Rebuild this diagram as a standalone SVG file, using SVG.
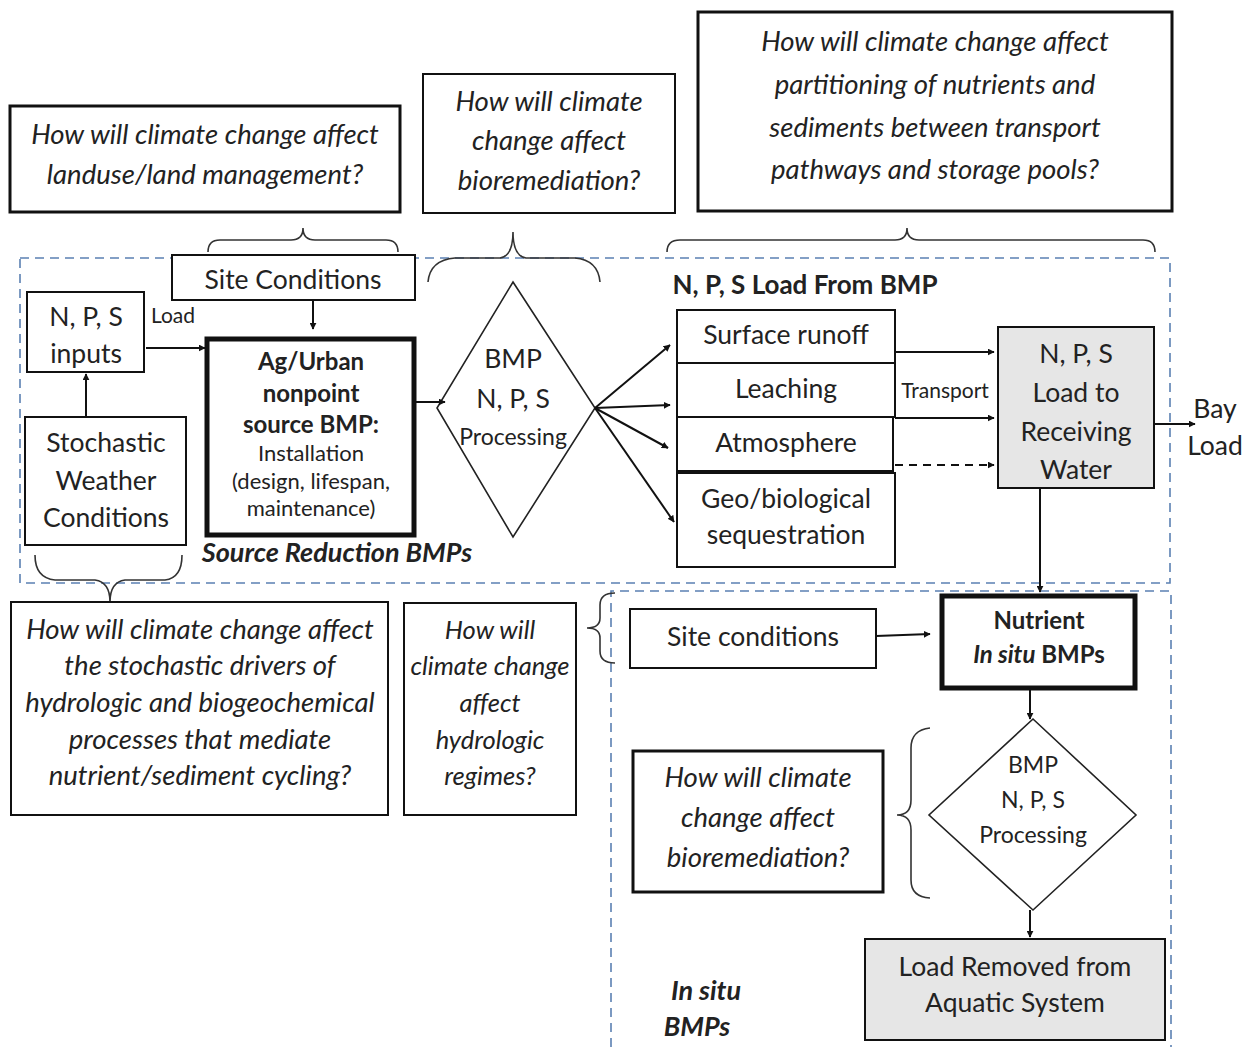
<svg xmlns="http://www.w3.org/2000/svg" width="1253" height="1047" viewBox="0 0 1253 1047">
  <style>
    text { font-family: Lato, "Open Sans", "Liberation Sans", sans-serif; fill: #222; text-anchor: middle; }
    .q { font-style: italic; font-size: 27.5px; }
    .qs { font-style: italic; font-size: 25.5px; }
    .n { font-size: 26.5px; }
    .s { font-size: 22px; }
    .b { font-weight: bold; }
    .box { fill: #fff; stroke: #111; stroke-width: 2; }
    .qbox { fill: #fff; stroke: #111; stroke-width: 3; }
    .thick { fill: #fff; stroke: #111; stroke-width: 5; }
    .grey { fill: #e6e6e6; stroke: #111; stroke-width: 2; }
    .brace { fill: none; stroke: #333; stroke-width: 1.6; }
    .zone { fill: none; stroke: #5b80b2; stroke-width: 1.6; stroke-dasharray: 9 6; }
    .edge { fill: none; stroke: #111; stroke-width: 2; marker-end: url(#arrow); }
    .dash { stroke-dasharray: 8 6; }
  </style>
  <defs>
    <marker id="arrow" viewBox="0 0 10 10" refX="9" refY="5" markerWidth="7" markerHeight="7" markerUnits="userSpaceOnUse" orient="auto">
      <path d="M0,0 L10,5 L0,10 z" fill="#111"/>
    </marker>
  </defs>
  <rect width="1253" height="1047" fill="#fff"/>

  <!-- dashed system boundaries -->
  <g id="zones">
    <rect class="zone" x="20" y="258" width="1150" height="325"/>
    <path class="zone" d="M611,1047 L611,591 L1171,591 L1171,1047"/>
  </g>

  <!-- braces linking questions to parts of the system -->
  <g id="braces">
    <path class="brace" d="M208,252 Q208,240 220,240 L291,240 Q303,240 303,228 Q303,240 315,240 L386,240 Q398,240 398,252"/>
    <path class="brace" d="M428,282 Q430,260 455,258 L500,258 Q513,256 513,232 Q513,256 526,258 L575,258 Q598,260 600,282"/>
    <path class="brace" d="M667,252 Q667,240 680,240 L895,240 Q907,240 907,228 Q907,240 919,240 L1143,240 Q1155,240 1155,252"/>
    <path class="brace" d="M35,555 Q35,578 55,580 L95,580 Q110,582 110,602 Q110,582 125,580 L165,580 Q182,578 182,555"/>
    <path class="brace" d="M615,593 Q600,593 600,605 L600,618 Q600,628 587,628 Q600,628 600,638 L600,651 Q600,663 615,663"/>
    <path class="brace" d="M930,728 Q911,730 911,748 L911,800 Q911,815 897,815 Q911,815 911,830 L911,880 Q911,897 930,898"/>
  </g>

  <!-- question boxes -->
  <g id="q-landuse">
    <rect class="qbox" x="10" y="106" width="390" height="106"/>
    <text class="q" x="205" y="144">How will climate change affect</text>
    <text class="q" x="205" y="184">landuse/land management?</text>
  </g>
  <g id="q-bioremediation-top">
    <rect class="box" x="423" y="74" width="252" height="139"/>
    <text class="q" x="549" y="111">How will climate</text>
    <text class="q" x="549" y="150">change affect</text>
    <text class="q" x="549" y="190">bioremediation?</text>
  </g>
  <g id="q-partitioning">
    <rect class="qbox" x="698" y="12" width="474" height="199"/>
    <text class="q" x="935" y="51">How will climate change affect</text>
    <text class="q" x="935" y="94">partitioning of nutrients and</text>
    <text class="q" x="935" y="137">sediments between transport</text>
    <text class="q" x="935" y="179">pathways and storage pools?</text>
  </g>
  <g id="q-stochastic">
    <rect class="box" x="11" y="602" width="377" height="213"/>
    <text class="q" x="200" y="639">How will climate change affect</text>
    <text class="q" x="200" y="675">the stochastic drivers of</text>
    <text class="q" x="200" y="712">hydrologic and biogeochemical</text>
    <text class="q" x="200" y="749">processes that mediate</text>
    <text class="q" x="200" y="785">nutrient/sediment cycling?</text>
  </g>
  <g id="q-hydrologic">
    <rect class="box" x="404" y="603" width="172" height="212"/>
    <text class="qs" x="490" y="639">How will</text>
    <text class="qs" x="490" y="675">climate change</text>
    <text class="qs" x="490" y="712">affect</text>
    <text class="qs" x="490" y="749">hydrologic</text>
    <text class="qs" x="490" y="785">regimes?</text>
  </g>
  <g id="q-bioremediation-insitu">
    <rect class="qbox" x="633" y="751" width="250" height="141"/>
    <text class="q" x="758" y="787">How will climate</text>
    <text class="q" x="758" y="827">change affect</text>
    <text class="q" x="758" y="867">bioremediation?</text>
  </g>

  <!-- source reduction part -->
  <g id="site-conditions">
    <rect class="box" x="172" y="255" width="243" height="45"/>
    <text class="n" x="293" y="289">Site Conditions</text>
  </g>
  <g id="nps-inputs">
    <rect class="box" x="27" y="292" width="117" height="80"/>
    <text class="n" x="86" y="326">N, P, S</text>
    <text class="n" x="86" y="363">inputs</text>
  </g>
  <g id="stochastic-weather">
    <rect class="box" x="25" y="417" width="161" height="128"/>
    <text class="n" x="106" y="452">Stochastic</text>
    <text class="n" x="106" y="490">Weather</text>
    <text class="n" x="106" y="527">Conditions</text>
  </g>
  <g id="ag-urban-bmp">
    <rect class="thick" x="207" y="339" width="207" height="196"/>
    <text class="b" x="311" y="370" font-size="24">Ag/Urban</text>
    <text class="b" x="311" y="402" font-size="24">nonpoint</text>
    <text class="b" x="311" y="433" font-size="24">source BMP:</text>
    <text class="s" x="311" y="461">Installation</text>
    <text class="s" x="311" y="489">(design, lifespan,</text>
    <text class="s" x="311" y="516">maintenance)</text>
  </g>
  <g id="source-reduction-label">
    <text class="b" x="337" y="562" font-size="27" font-style="italic">Source Reduction BMPs</text>
  </g>
  <g id="bmp-processing">
    <polygon fill="#fff" stroke="#222" stroke-width="1.6" points="513,282 595,408 513,537 437,408"/>
    <text class="n" x="513" y="368" font-size="25">BMP</text>
    <text class="n" x="513" y="408" font-size="25">N, P, S</text>
    <text x="513" y="445" font-size="23">Processing</text>
  </g>

  <!-- load partitioning -->
  <g id="load-from-bmp-label">
    <text class="b" x="805" y="294" font-size="26">N, P, S Load From BMP</text>
  </g>
  <g id="surface-runoff">
    <rect class="box" x="677" y="310" width="218" height="53"/>
    <text class="n" x="786" y="344">Surface runoff</text>
  </g>
  <g id="leaching">
    <rect class="box" x="677" y="363" width="218" height="54"/>
    <text class="n" x="786" y="398">Leaching</text>
  </g>
  <g id="atmosphere">
    <rect class="box" x="677" y="417" width="216" height="54" stroke-width="2.5"/>
    <text class="n" x="786" y="452">Atmosphere</text>
  </g>
  <g id="sequestration">
    <rect class="box" x="677" y="473" width="218" height="94"/>
    <text class="n" x="786" y="508">Geo/biological</text>
    <text class="n" x="786" y="544">sequestration</text>
  </g>
  <g id="receiving-water">
    <rect class="grey" x="998" y="327" width="156" height="161"/>
    <text class="n" x="1076" y="363">N, P, S</text>
    <text class="n" x="1076" y="402">Load to</text>
    <text class="n" x="1076" y="441">Receiving</text>
    <text class="n" x="1076" y="479">Water</text>
  </g>
  <g id="bay-load">
    <text class="n" x="1215" y="418">Bay</text>
    <text class="n" x="1215" y="455">Load</text>
  </g>

  <!-- in situ part -->
  <g id="site-conditions-insitu">
    <rect class="box" x="630" y="609" width="246" height="59"/>
    <text class="n" x="753" y="646">Site conditions</text>
  </g>
  <g id="nutrient-insitu">
    <rect class="thick" x="942" y="596" width="193" height="92"/>
    <text class="b" x="1039" y="629" font-size="24">Nutrient</text>
    <text class="b" x="1039" y="663" font-size="24"><tspan font-style="italic">In situ</tspan> BMPs</text>
  </g>
  <g id="bmp-processing-insitu">
    <polygon fill="#fff" stroke="#222" stroke-width="1.6" points="1033,719 1136,815 1033,910 929,815"/>
    <text x="1033" y="773" font-size="23">BMP</text>
    <text x="1033" y="808" font-size="23">N, P, S</text>
    <text x="1033" y="843" font-size="23">Processing</text>
  </g>
  <g id="load-removed">
    <rect class="grey" x="865" y="939" width="300" height="101"/>
    <text class="n" x="1015" y="976">Load Removed from</text>
    <text class="n" x="1015" y="1012">Aquatic System</text>
  </g>
  <g id="insitu-label">
    <text class="b" x="706" y="1000" font-size="27" font-style="italic">In situ</text>
    <text class="b" x="697" y="1036" font-size="27" font-style="italic">BMPs</text>
  </g>

  <!-- connectors -->
  <g id="connectors">
    <path class="edge" d="M86,417 L86,374"/>
    <path class="edge" d="M146,348 L205,348"/>
    <path class="edge" d="M313,300 L313,329"/>
    <path class="edge" d="M416,402 L445,402"/>
    <path class="edge" d="M595,408 L670,345"/>
    <path class="edge" d="M595,408 L670,405"/>
    <path class="edge" d="M595,408 L668,448"/>
    <path class="edge" d="M595,408 L674,522"/>
    <path class="edge" d="M895,352 L994,352"/>
    <path class="edge" d="M895,418 L994,418"/>
    <path class="edge dash" d="M895,465 L994,465"/>
    <path class="edge" d="M1154,424 L1195,424"/>
    <path class="edge" d="M1040,488 L1040,592"/>
    <path class="edge" d="M876,636 L930,634"/>
    <path class="edge" d="M1030,690 L1030,719"/>
    <path class="edge" d="M1030,910 L1030,937"/>
    <text x="173" y="323" font-size="21">Load</text>
    <text x="945" y="398" font-size="21">Transport</text>
  </g>
</svg>
